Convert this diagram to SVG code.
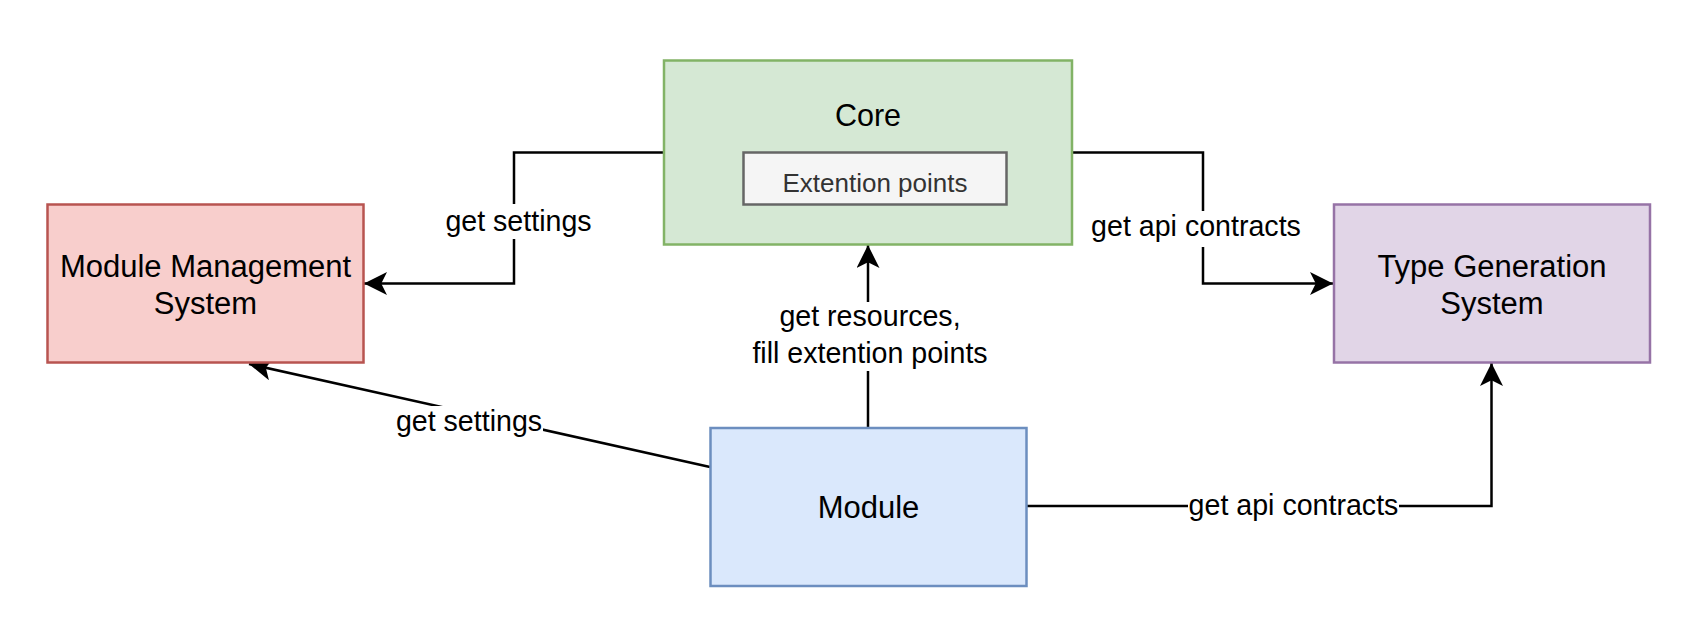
<svg xmlns="http://www.w3.org/2000/svg" width="1692" height="631" viewBox="0 0 1692 631">
<style>
.node text{font-family:"Liberation Sans",Arial,sans-serif;font-size:31px;fill:#000;text-anchor:middle}
.edge{fill:none;stroke:#000;stroke-width:2.5}
.lbl{font-family:"Liberation Sans",Arial,sans-serif;font-size:28.6px;fill:#000;text-anchor:middle}
.bg{fill:#fff}
</style>
<defs>
<marker id="arr" markerUnits="userSpaceOnUse" viewBox="0 0 23 23" markerWidth="23" markerHeight="23" refX="23" refY="11.5" orient="auto">
<path d="M23,11.5 L0,0 L5.75,11.5 L0,23 Z" fill="#000"/>
</marker>
</defs>
<rect width="1692" height="631" fill="#fff"/>
<g id="connectors">
<path class="edge" d="M664,152.5 H514 V283.5 H364" marker-end="url(#arr)"/>
<path class="edge" d="M1072,152.5 H1203 V283.5 H1333" marker-end="url(#arr)"/>
<path class="edge" d="M868,428 V245" marker-end="url(#arr)"/>
<path class="edge" d="M710,467 L249,364" marker-end="url(#arr)"/>
<path class="edge" d="M1026,506 H1491.5 V363" marker-end="url(#arr)"/>
<rect class="bg" x="446" y="204" width="146" height="35"/>
<text class="lbl" x="518.5" y="230.7">get settings</text>
<rect class="bg" x="1091" y="211" width="210" height="36"/>
<text class="lbl" x="1196" y="236">get api contracts</text>
<rect class="bg" x="752" y="302" width="238" height="69"/>
<text class="lbl" x="870" y="326">get resources,</text>
<text class="lbl" x="870" y="362.7">fill extention points</text>
<rect class="bg" x="396" y="406" width="147" height="34"/>
<text class="lbl" x="469" y="431">get settings</text>
<rect class="bg" x="1188" y="490" width="211" height="33"/>
<text class="lbl" x="1293.5" y="515">get api contracts</text>
</g>
<g id="core" class="node">
<rect x="664" y="60.5" width="408" height="184" fill="#d5e8d4" stroke="#82b366" stroke-width="2.5"/>
<text x="868" y="126" style="font-size:30.5px">Core</text>
</g>
<g id="extention-points" class="node">
<rect x="743.5" y="152.5" width="263" height="52" fill="#f5f5f5" stroke="#666666" stroke-width="2.5"/>
<text x="875" y="191.7" style="font-size:26px;fill:#333333">Extention points</text>
</g>
<g id="module-management-system" class="node">
<rect x="47.5" y="204.5" width="316" height="158" fill="#f8cecc" stroke="#b85450" stroke-width="2.5"/>
<text x="205.5" y="277.3">Module Management</text>
<text x="205.5" y="314">System</text>
</g>
<g id="type-generation-system" class="node">
<rect x="1334" y="204.5" width="316" height="158" fill="#e1d5e7" stroke="#9673a6" stroke-width="2.5"/>
<text x="1492" y="276.7">Type Generation</text>
<text x="1492" y="314">System</text>
</g>
<g id="module" class="node">
<rect x="710.5" y="428" width="316" height="158" fill="#dae8fc" stroke="#6c8ebf" stroke-width="2.5"/>
<text x="868.5" y="517.7">Module</text>
</g>
</svg>
